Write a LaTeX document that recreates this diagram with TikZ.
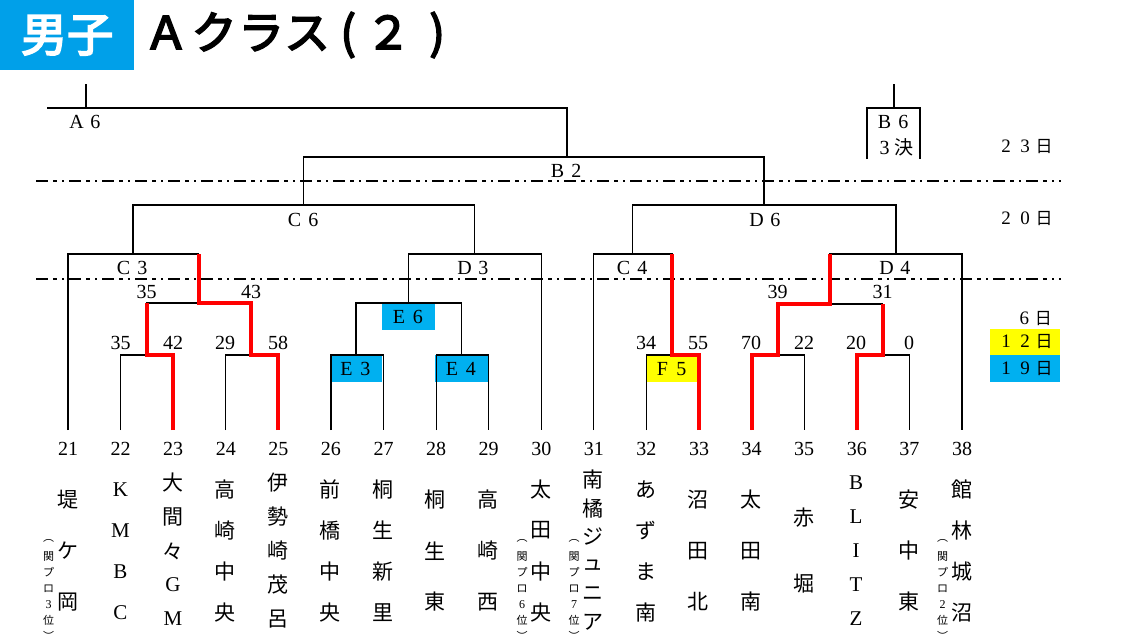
\documentclass[tikz,border=0pt]{standalone}
\usepackage{fontspec}
\setmainfont{Liberation Serif}
\newfontfamily\cjk{Noto Sans CJK JP}
\newfontfamily\cjkb[FakeBold=4]{Noto Sans CJK JP}
\definecolor{titleblue}{HTML}{00A0E9}
\definecolor{eblue}{HTML}{00B0F0}
\definecolor{fyellow}{HTML}{FFFF00}
\definecolor{winred}{HTML}{FF0000}
\newcommand\fw[1]{\makebox[19pt]{#1}}
\newcommand\hi{\makebox[19pt]{\cjk\fontsize{17}{17}\selectfont 日}}
\newcommand\tb[2]{\makebox[#1pt]{#2}}
\newcommand\lat{\normalfont\fontsize{21}{21}\selectfont}
\newcommand\vname[5]{%
  \foreach \ch [count=\i] in {#5}{\node[nm] (#1-\i) at (#2,{551+(\i-(#3+1)/2)*#4}) {\ch};}}
\newcommand\annot[3]{%
  \foreach \ch [count=\i] in {︵,関,プ,ロ,{\normalfont\fontsize{12}{12}\selectfont #3},位,︶}{\node[ann] (#1-\i) at (#2,{541+(\i-1)*15.8}) {\ch};}}
\tikzset{
  ln/.style={line width=1.2pt, black},
  win/.style={line width=4pt, winred, line join=miter},
  dd/.style={line width=1.3pt, dash pattern=on 12pt off 5pt on 4pt off 5pt on 2pt off 5pt},
  lbl/.style={inner sep=0, font=\fontsize{20}{20}\selectfont},
  num/.style={inner sep=0, font=\fontsize{20}{20}\selectfont},
  nm/.style={inner sep=0, font=\cjk\fontsize{21}{21}\selectfont},
  ann/.style={inner sep=0, font=\cjk\fontsize{11}{11}\selectfont},
  day/.style={inner sep=0, font=\fontsize{19}{19}\selectfont},
  ebox/.style={fill=eblue, inner sep=0, minimum width=52.6pt, minimum height=27pt, anchor=north, font=\fontsize{20}{20}\selectfont},
  fbox/.style={fill=fyellow, inner sep=0, minimum width=52.6pt, minimum height=27pt, anchor=north, font=\fontsize{20}{20}\selectfont},
}
\begin{document}
\begin{tikzpicture}[x=1pt,y=-1pt]
\useasboundingbox (0,0) rectangle (1125,640);
\fill[white] (0,0) rectangle (1125,640);
% title
\node[fill=titleblue, minimum width=134pt, minimum height=70pt, anchor=north west, inner sep=0, text=white, font=\cjkb\fontsize{46}{46}\selectfont] (tbox) at (0,0) {男子};
\node[anchor=west, inner sep=0, font=\cjkb\fontsize{45}{45}\selectfont] (title) at (142,35) {\tb{48}{Ａ}\tb{48}{ク}\tb{46}{ラ}\tb{46}{ス}\tb{36}{(}\tb{44}{２}\tb{54}{)}};
% team positions
\foreach \k in {21,...,38}{
  \coordinate (t\k) at ({68+(\k-21)*52.588},430);
  \node[num] (n\k) at ({68+(\k-21)*52.588},449) {\k};
}
% bracket centres
\coordinate (m1) at (146.5,355);
\coordinate (m2) at (251,355);
\coordinate (r2) at (198.5,303);
\coordinate (c3) at (133,254);
\coordinate (e3) at (356,355);
\coordinate (e4) at (461.5,355);
\coordinate (e6) at (408.5,303);
\coordinate (d3) at (474.5,254);
\coordinate (c6) at (303.75,205);
\coordinate (f5) at (672,355);
\coordinate (c4) at (632.5,254);
\coordinate (m3) at (777.5,355);
\coordinate (m4) at (882.5,355);
\coordinate (r4) at (830,304);
\coordinate (d4) at (896,254);
\coordinate (d6) at (764,205);
\coordinate (b2) at (567,157);
\coordinate (a6r) at (567,108);
\coordinate (a6l) at (47,108);
\coordinate (a6t) at (86,84);
\coordinate (b6t) at (894,84);
\coordinate (b6j) at (894,108);
\coordinate (b6l) at (867,159);
\coordinate (b6tr) at (920,108);
\coordinate (b6r) at (920,159);
\coordinate (dl1) at (36,181);
\coordinate (dr1) at (1061,181);
\coordinate (dl2) at (36,279);
\coordinate (dr2) at (1061,279);
% coloured boxes
\node[ebox] (E3) at (e3) {\fw{E}\fw{3}};
\node[ebox] (E4) at (e4) {\fw{E}\fw{4}};
\node[ebox] (E6) at (e6) {\fw{E}\fw{6}};
\node[fbox] (F5) at (f5) {\fw{F}\fw{5}};
% black bracket lines
\draw[ln] (t22) |- (m1) -| (t23);
\draw[ln] (t24) |- (m2) -| (t25);
\draw[ln] (m1) |- (r2) -| (m2);
\draw[ln] (t21) |- (c3) -| (r2);
\draw[ln] (t26) |- (e3) -| (t27);
\draw[ln] (t28) |- (e4) -| (t29);
\draw[ln] (e3) |- (e6) -| (e4);
\draw[ln] (e6) |- (d3) -| (t30);
\draw[ln] (c3) |- (c6) -| (d3);
\draw[ln] (t32) |- (f5) -| (t33);
\draw[ln] (t31) |- (c4) -| (f5);
\draw[ln] (t34) |- (m3) -| (t35);
\draw[ln] (t36) |- (m4) -| (t37);
\draw[ln] (m3) |- (r4) -| (m4);
\draw[ln] (r4) |- (d4) -| (t38);
\draw[ln] (c4) |- (d6) -| (d4);
\draw[ln] (c6) |- (b2) -| (d6);
\draw[ln] (b2) -- (a6r) -- (a6l);
\draw[ln] (a6t) -- (a6t |- a6l);
\draw[ln] (b6t) -- (b6j);
\draw[ln] (b6l) |- (b6tr) -- (b6r);
% dash-dot day separators
\draw[dd] (dl1) -- (dr1);
\draw[dd] (dl2) -- (dr2);
% winners (red)
\draw[win] (t23) |- (m1) -- (m1 |- r2);
\draw[win] (t25) |- (m2) |- (r2) -- (r2 |- c3);
\draw[win] (t33) |- (f5) -- (f5 |- c4);
\draw[win] (t34) |- (m3) |- (r4) -- (r4 |- d4);
\draw[win] (t36) |- (m4) -- (m4 |- r4);
% round labels
\node[lbl] (lA6) at (86,122) {\fw{A}\fw{6}};
\node[lbl] (lB2) at (567,171) {\fw{B}\fw{2}};
\node[lbl] (lC6) at (304,219.5) {\fw{C}\fw{6}};
\node[lbl] (lD6) at (766,219.5) {\fw{D}\fw{6}};
\node[lbl] (lC3) at (133,268) {\fw{C}\fw{3}};
\node[lbl] (lD3) at (474,268) {\fw{D}\fw{3}};
\node[lbl] (lC4) at (633,268) {\fw{C}\fw{4}};
\node[lbl] (lD4) at (896,268) {\fw{D}\fw{4}};
\node[lbl] (lB6) at (894,122) {\fw{B}\fw{6}};
\node[lbl] (l3k) at (894,147) {\fw{3}\makebox[19pt]{\cjk\fontsize{19}{19}\selectfont 決}};
% scores
\node[num] (s1) at (120.5,343) {35};
\node[num] (s2) at (173,343) {42};
\node[num] (s3) at (225,343) {29};
\node[num] (s4) at (278,343) {58};
\node[num] (s5) at (146.5,292) {35};
\node[num] (s6) at (251,292) {43};
\node[num] (s7) at (646,343) {34};
\node[num] (s8) at (698,343) {55};
\node[num] (s9) at (751,343) {70};
\node[num] (s10) at (804,343) {22};
\node[num] (s11) at (856,343) {20};
\node[num] (s12) at (909,343) {0};
\node[num] (s13) at (777.5,292) {39};
\node[num] (s14) at (882.5,292) {31};
% days
\node[day] (d23) at (1025,147) {\fw{2}\fw{3}\hi};
\node[day] (d20) at (1025,219) {\fw{2}\fw{0}\hi};
\node[day, anchor=east] (d6l) at (1053,319) {\fw{6}\hi};
\node[day, fill=fyellow, minimum width=70pt, minimum height=26pt] (d12) at (1025,342) {\fw{1}\fw{2}\hi};
\node[day, fill=eblue, minimum width=70pt, minimum height=26.5pt] (d19) at (1025,368.5) {\fw{1}\fw{9}\hi};
% team names
\vname{nm21}{68}{3}{51}{堤,ケ,岡}
\vname{nm22}{120.5}{4}{41}{\lat K,\lat M,\lat B,\lat C}
\vname{nm23}{173}{5}{34}{大,間,々,\lat G,\lat M}
\vname{nm24}{225}{4}{41}{高,崎,中,央}
\vname{nm25}{278}{5}{34}{伊,勢,崎,茂,呂}
\vname{nm26}{330}{4}{41}{前,橋,中,央}
\vname{nm27}{383}{4}{41}{桐,生,新,里}
\vname{nm28}{435}{3}{51}{桐,生,東}
\vname{nm29}{488}{3}{51}{高,崎,西}
\vname{nm30}{541}{4}{41}{太,田,中,央}
\vname{nm31}{593}{6}{28.5}{南,橘,ジ,ュ,ニ,ア}
\vname{nm32}{646}{4}{41}{あ,ず,ま,南}
\vname{nm33}{698}{3}{51}{沼,田,北}
\vname{nm34}{751}{3}{51}{太,田,南}
\vname{nm35}{804}{2}{66}{赤,堀}
\vname{nm36}{856}{5}{34}{\lat B,\lat L,\lat I,\lat T,\lat Z}
\vname{nm37}{909}{3}{51}{安,中,東}
\vname{nm38}{962}{4}{41}{館,林,城,沼}
% annotations
\annot{an21}{48.5}{3}
\annot{an30}{522}{6}
\annot{an31}{574}{7}
\annot{an38}{942.5}{2}
\end{tikzpicture}
\end{document}
